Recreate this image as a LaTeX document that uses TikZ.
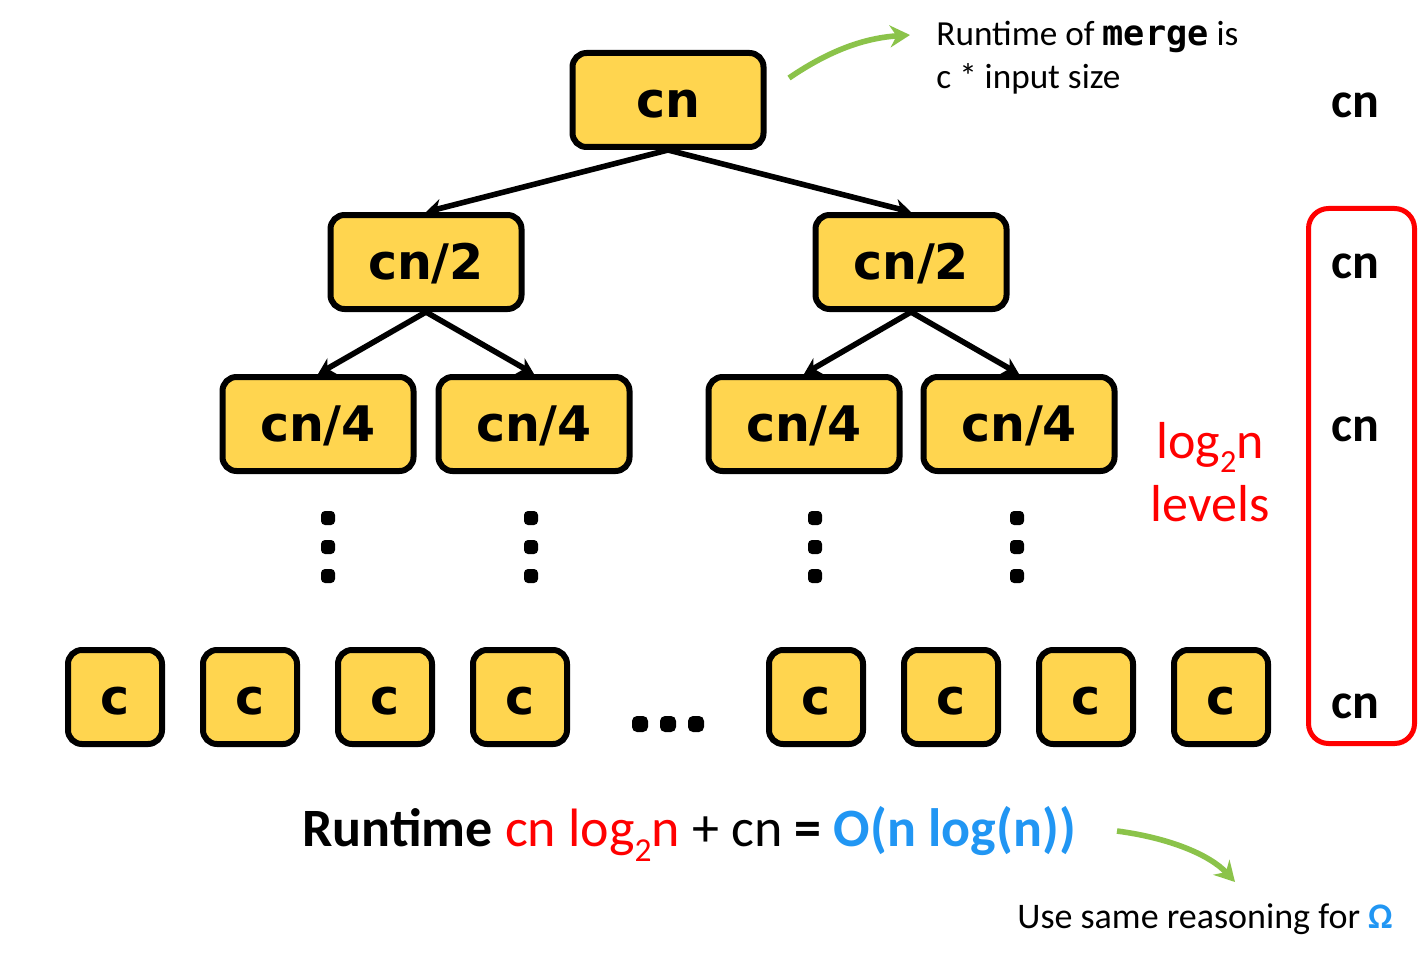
\documentclass[tikz,border=0pt]{standalone}
\usepackage{fontspec}
\setmainfont{Carlito}
\newfontfamily\boxfont{DejaVu Sans}
\newfontfamily\codefont{DejaVu Sans Mono}
\usetikzlibrary{arrows.meta,positioning}
\definecolor{boxfill}{HTML}{FFD54F}
\definecolor{sumred}{HTML}{FF0000}
\definecolor{bigo}{HTML}{2196F3}
\definecolor{note}{HTML}{8BC34A}
\newcommand{\lowsub}[1]{\raisebox{-0.28em}{\scalebox{0.62}{#1}}}

\begin{document}
\begin{tikzpicture}[x=0.5pt,y=-0.5pt,
  call/.style={draw=black,line width=3pt,fill=boxfill,rounded corners=7pt,inner sep=0pt,
    text height=17.6pt,text depth=0pt,
    minimum width=95.5pt,minimum height=47pt,font=\boxfont\bfseries\fontsize{24.5}{24.5}\selectfont},
  leaf/.style={call,minimum width=47pt},
  split/.style={line width=2.8pt,-{Stealth[length=8pt,width=9pt]}},
  hint/.style={note,line width=2.8pt,-{Stealth[length=10pt,width=11pt]}},
  level/.style={font=\bfseries\fontsize{25}{25}\selectfont,anchor=base}]
\useasboundingbox (0,0) rectangle (1427,957);
% the recursion tree
\node[call] (root) at (668,100) {cn};
\node[call] (l) at (426,262) {cn/2};
\node[call] (r) at (911,262) {cn/2};
\node[call] (ll) at (318,424) {cn/4};
\node[call] (lr) at (534,424) {cn/4};
\node[call] (rl) at (804,424) {cn/4};
\node[call] (rr) at (1019,424) {cn/4};
\foreach \p/\c in {root/l,root/r,l/ll,l/lr,r/rl,r/rr} {\draw[split] (\p.south) -- (\c.north);}
% vertical dots under each cn/4
\foreach \x in {328,531,815,1017} {\foreach \y in {518,547,576} {\fill[rounded corners=2pt] (\x-7,\y-7) rectangle (\x+7,\y+7);}}
% leaves
\foreach \x [count=\i] in {115,250,385,520,816,951,1086,1221} {\node[leaf] (c\i) at (\x,697) {c};}
\foreach \x in {640,668,696} {\fill[rounded corners=2.5pt] (\x-8,716) rectangle (\x+8,732);}
% cost per level
\node[level] (s0) at (1355,118) {cn};
\node[level] (s1) at (1355,278) {cn};
\node[level] (s2) at (1355,441) {cn};
\node[level] (s3) at (1355,718) {cn};
\draw[sumred,line width=2.5pt,rounded corners=10pt] (1308.5,208.5) rectangle (1414.5,743.5);
\node[sumred,font=\fontsize{26}{31.5}\selectfont,align=center,anchor=base] (depth) at (1210,521) {log\lowsub{2}n\\levels};
% notes
\node[anchor=base west,font=\fontsize{17.6}{17.6}\selectfont,inner sep=0pt] (merge) at (936,46) {Runtime of {\codefont\bfseries merge} is};
\node[anchor=base west,font=\fontsize{17.6}{17.6}\selectfont,inner sep=0pt] (size) at (936,89) {c * input size};
\coordinate (m0) at (789,78);
\coordinate (m1) at (910,35);
\draw[hint] (m0) .. controls (830,50) and (865,38) .. (m1);
\node[anchor=base,font=\fontsize{27}{27}\selectfont,inner sep=0pt] (total) at (689,846)
  {\textbf{Runtime} \textcolor{sumred}{cn log\lowsub{2}n} + cn \textbf{=} \textcolor{bigo}{\textbf{O(n log(n))}}};
\node[anchor=base west,font=\fontsize{18}{18}\selectfont,inner sep=0pt] (omega) at (1017,928)
  {Use same reasoning for \textcolor{bigo}{\textbf{Ω}}};
\coordinate (o0) at (1117,831);
\coordinate (o1) at (1235,882);
\draw[hint] (o0) .. controls (1170,838) and (1210,855) .. (o1);
\end{tikzpicture}
\end{document}
